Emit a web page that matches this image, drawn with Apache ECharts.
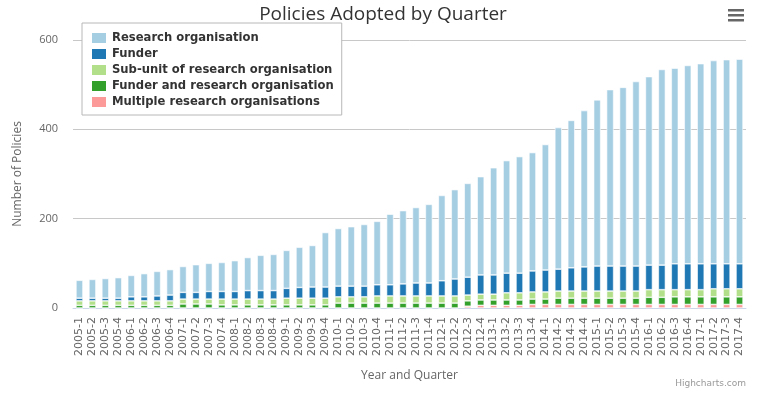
<!DOCTYPE html>
<html>
<head>
<meta charset="utf-8">
<script src="https://cdn.jsdelivr.net/npm/echarts@6/dist/echarts.min.js"></script>
<style>
  html, body { margin: 0; padding: 0; background: #fff; }
  #chart { width: 766px; height: 396px; }
</style>
</head>
<body>
<div id="chart"></div>
<script>
// quarters 2005-1 .. 2017-4
var years = ['2005','2006','2007','2008','2009','2010','2011','2012','2013','2014','2015','2016','2017'];
var quarters = [];
years.forEach(function (y) { for (var q = 1; q <= 4; q++) quarters.push(y + '-' + q); });

var researchOrg = [40,42,44,46,48,52,55,57,58,62,63,65,69,74,79,81,85,90,93,122,
  129,133,138,142,158,164,169,176,191,200,210,220,240,252,261,265,281,317,330,350,
  372,395,400,413,422,438,438,444,448,455,457,458];
var funder = [6,6,6,6,9,9,11,13,15,15,17,17,17,19,19,19,22,24,25,25,
  24,24,24,25,25,27,29,29,34,38,40,43,43,44,44,47,49,49,52,54,
  56,56,56,56,55,55,58,58,58,56,56,56];
var subUnit = [10,10,10,10,10,10,10,10,11,11,11,13,13,13,13,13,15,15,15,15,
  14,14,14,16,16,16,16,16,16,16,13,13,13,16,16,16,16,16,16,16,
  16,16,16,16,17,17,16,16,16,18,18,18];
var funderAndResearch = [6,6,6,6,6,6,6,6,9,9,9,7,7,7,7,7,7,7,7,7,
  11,11,11,11,11,11,11,11,11,11,12,12,12,12,12,12,12,14,14,14,
  14,14,14,14,16,16,17,17,17,17,17,17];
var multipleOrgs = [0,0,0,0,0,0,0,0,0,0,0,0,0,0,0,0,0,0,0,0,
  0,0,0,0,0,0,0,0,0,0,4,6,6,6,6,8,8,8,8,8,
  8,8,8,8,8,8,8,8,8,8,8,8];
var yTicks = [0, 200, 400, 600];

var chart = echarts.init(document.getElementById('chart'));

function bar(name, data, color) {
  return {
    name: name,
    type: 'bar',
    stack: 'total',
    barWidth: 7,
    data: data,
    itemStyle: { color: color, borderColor: '#fff', borderWidth: 0.6 },
    emphasis: { disabled: true }
  };
}

var option = {
  animation: false,
  textStyle: { fontFamily: 'Open Sans' },
  title: {
    text: 'Policies Adopted by Quarter',
    left: 'center',
    top: 0,
    textStyle: { fontFamily: 'Open Sans', fontSize: 19, fontWeight: 'normal', color: '#333' }
  },
  legend: {
    orient: 'vertical',
    left: 82,
    top: 23,
    backgroundColor: '#fff',
    borderColor: '#b8b8b8',
    borderWidth: 1,
    padding: [8, 8, 6, 8],
    itemWidth: 16,
    itemHeight: 12,
    itemGap: 2,
    icon: 'rect',
    data: ['Research organisation', 'Funder', 'Sub-unit of research organisation',
      'Funder and research organisation', 'Multiple research organisations'],
    textStyle: { fontFamily: 'DejaVu Sans', fontWeight: 'bold', fontSize: 11.6, lineHeight: 14, color: '#333' }
  },
  grid: { left: 73, right: 20, top: 40, bottom: 88 },
  xAxis: {
    type: 'category',
    data: quarters,
    name: 'Year and Quarter',
    nameLocation: 'middle',
    nameGap: 62,
    nameTextStyle: { color: '#666', fontSize: 12 },
    axisLine: { lineStyle: { color: '#ccd6eb' } },
    axisTick: { alignWithLabel: false, length: 9, lineStyle: { color: '#ccd6eb' } },
    axisLabel: { rotate: 90, interval: 0, margin: 9, color: '#666', fontSize: 11, fontFamily: 'DejaVu Sans' }
  },
  yAxis: {
    type: 'value',
    min: yTicks[0],
    max: yTicks[yTicks.length - 1],
    interval: 200,
    name: 'Number of Policies',
    nameLocation: 'middle',
    nameGap: 49,
    nameTextStyle: { color: '#666', fontSize: 12 },
    axisLine: { show: false },
    axisTick: { show: false },
    axisLabel: { margin: 15, color: '#666', fontSize: 11 },
    splitLine: { lineStyle: { color: '#c8c8c8' } }
  },
  graphic: [
    { type: 'rect', left: 728, top: 9, shape: { width: 16, height: 2.5 }, style: { fill: '#666' } },
    { type: 'rect', left: 728, top: 14, shape: { width: 16, height: 2.5 }, style: { fill: '#666' } },
    { type: 'rect', left: 728, top: 19, shape: { width: 16, height: 2.5 }, style: { fill: '#666' } },
    { type: 'text', right: 20, top: 379, style: { text: 'Highcharts.com', fill: '#999', fontSize: 9, fontFamily: 'DejaVu Sans' } }
  ],
  series: [
    bar('Multiple research organisations', multipleOrgs, '#fb9a99'),
    bar('Funder and research organisation', funderAndResearch, '#33a02c'),
    bar('Sub-unit of research organisation', subUnit, '#b2df8a'),
    bar('Funder', funder, '#1f78b4'),
    bar('Research organisation', researchOrg, '#a6cee3')
  ]
};

chart.setOption(option);
</script>
</body>
</html>
